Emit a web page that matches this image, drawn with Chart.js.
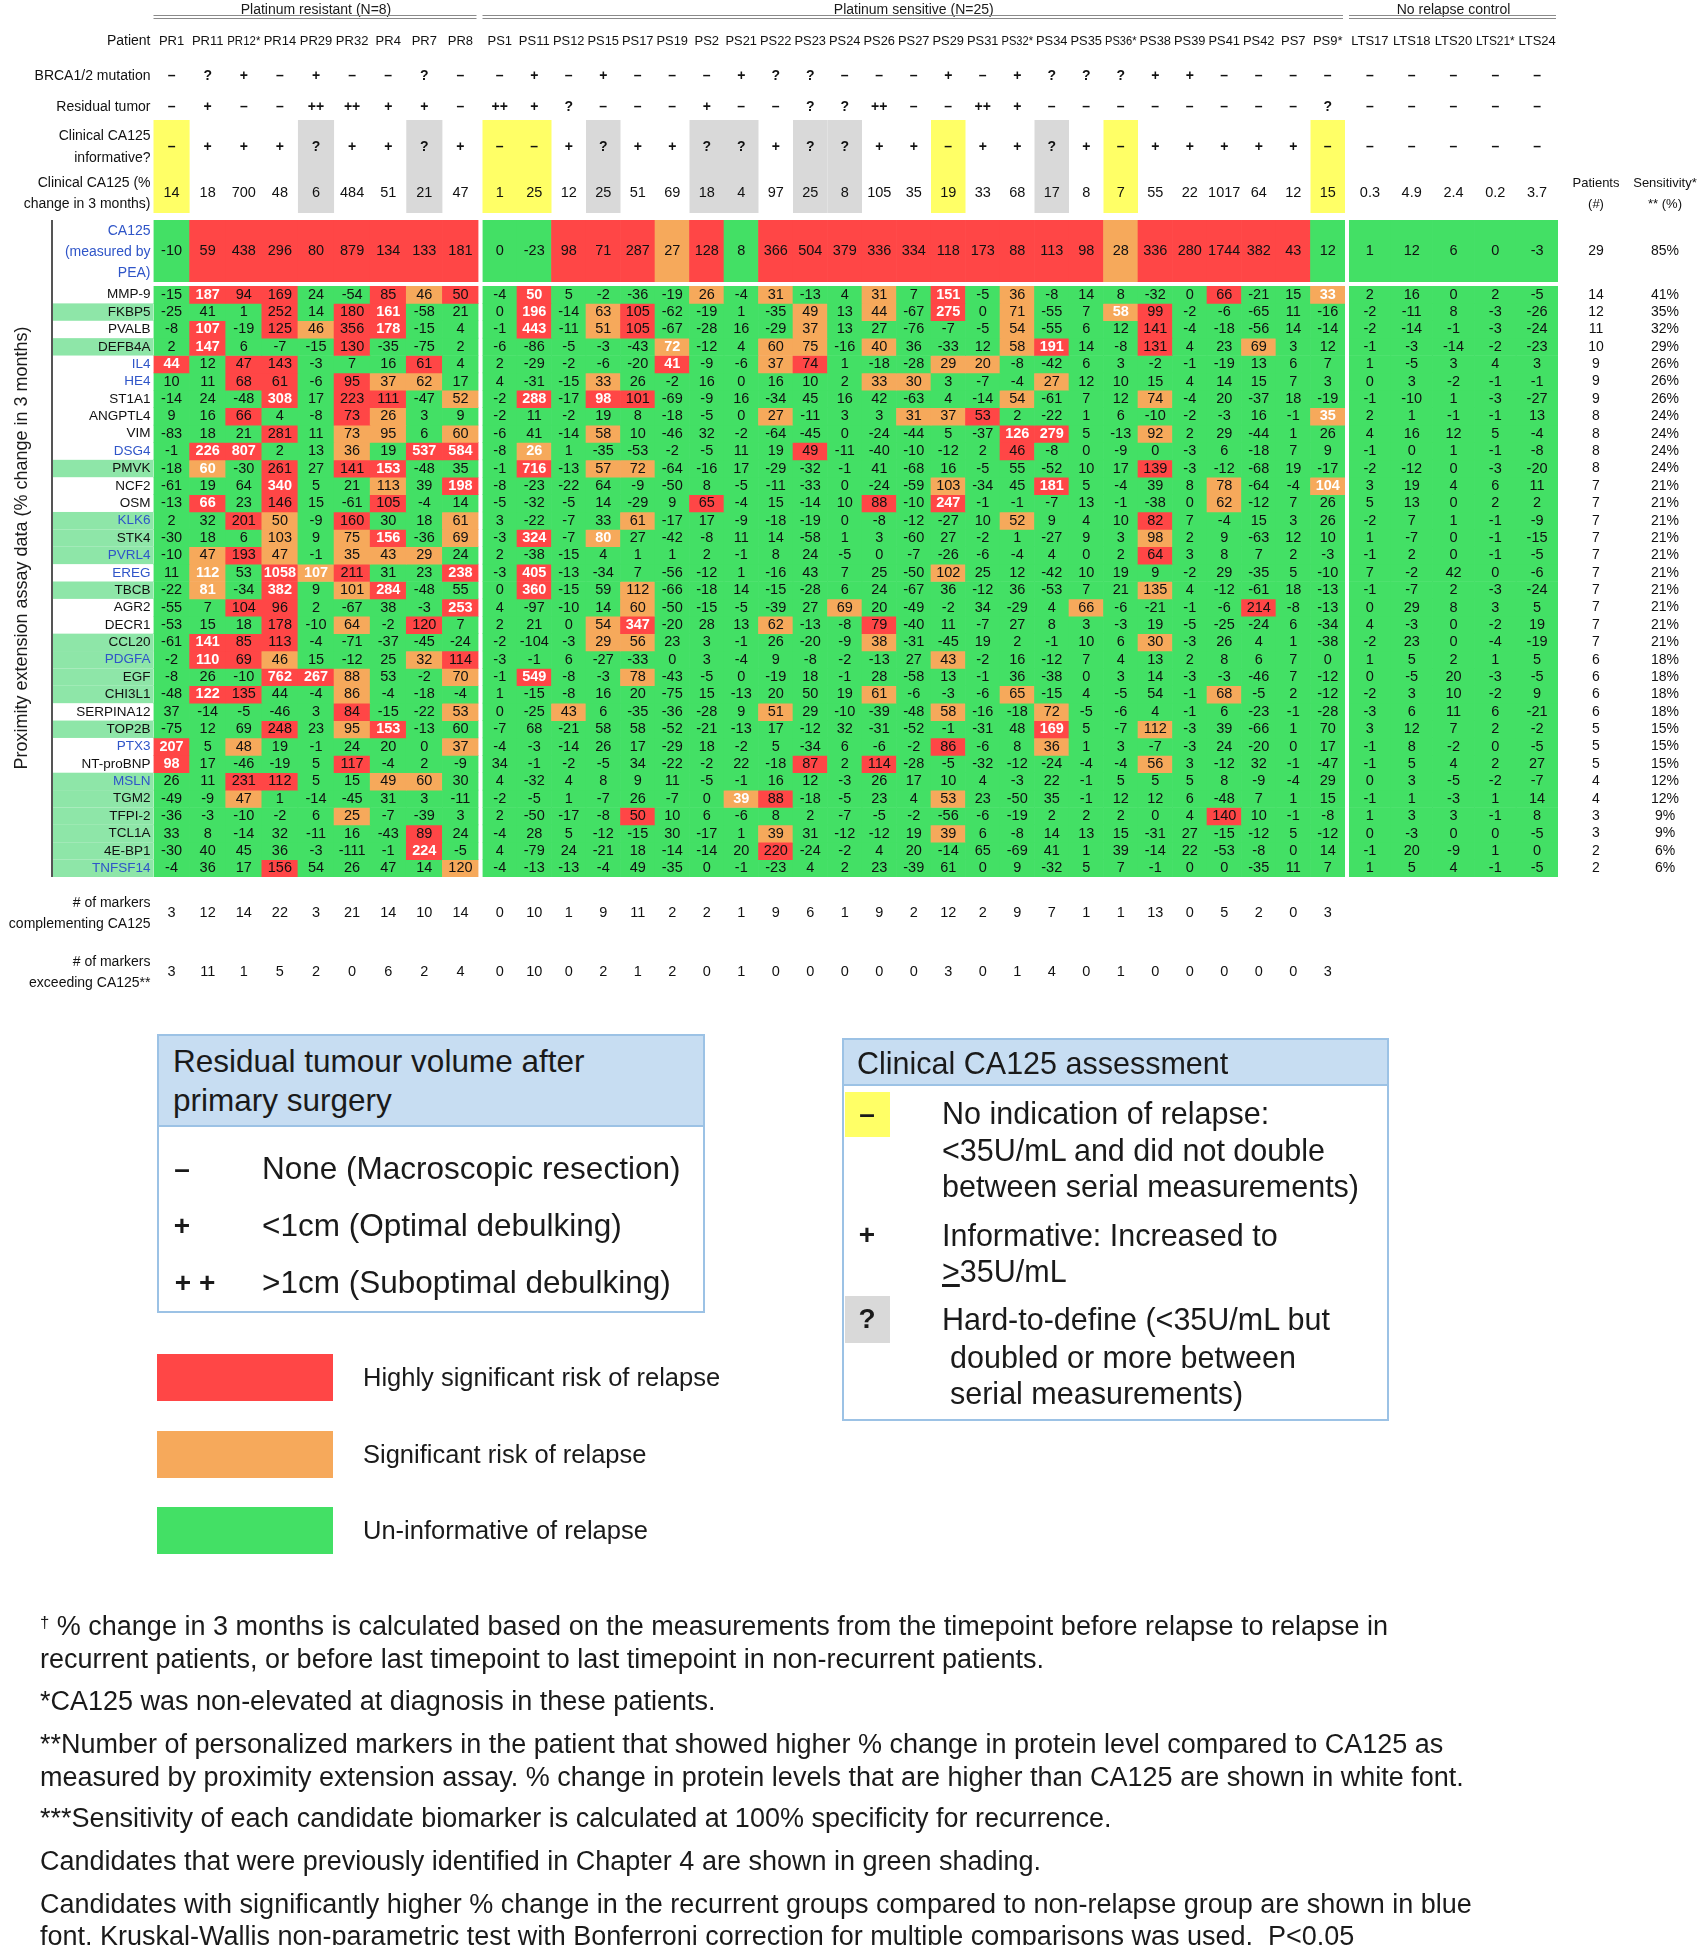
<!DOCTYPE html>
<html><head><meta charset="utf-8">
<script src="https://cdn.jsdelivr.net/npm/chart.js@4.4.0/dist/chart.umd.min.js"></script>
<style>
html,body{margin:0;padding:0;background:#fff;}
#page{position:relative;width:1701px;height:1945px;overflow:hidden;font-family:'Liberation Sans',Arial,Helvetica,sans-serif;color:#1a1a1a;background:#fff;}
canvas{position:absolute;left:0;top:0;}
.t{position:absolute;white-space:nowrap;}
</style></head><body><div id="page">
<canvas id="topPR" width="1701" height="1945"></canvas>
<canvas id="topPS" width="1701" height="1945"></canvas>
<canvas id="topLTS" width="1701" height="1945"></canvas>
<canvas id="mkPR" width="1701" height="1945"></canvas>
<canvas id="mkPS" width="1701" height="1945"></canvas>
<canvas id="mkLTS" width="1701" height="1945"></canvas>
</div>
<script>
// ---------------- DATA ----------------
const patientsPR = ['PR1','PR11','PR12*','PR14','PR29','PR32','PR4','PR7','PR8'];
const patientsPS = ['PS1','PS11','PS12','PS15','PS17','PS19','PS2','PS21','PS22','PS23','PS24','PS26','PS27','PS29','PS31','PS32*','PS34','PS35','PS36*','PS38','PS39','PS41','PS42','PS7','PS9*'];
const patientsLTS = ['LTS17','LTS18','LTS20','LTS21*','LTS24'];

const brcaMutation = ['–','?','+','–','+','–','–','?','–',
  '–','+','–','+','–','–','–','+','?','?','–','–','–','+','–','+','?','?','?','+','+','–','–','–','–',
  '–','–','–','–','–'];
const residualTumor = ['–','+','–','–','++','++','+','+','–',
  '++','+','?','–','–','–','+','–','–','?','?','++','–','–','++','+','–','–','–','–','–','–','–','–','?',
  '–','–','–','–','–'];
const ca125Informative = ['–','+','+','+','?','+','+','?','+',
  '–','–','+','?','+','+','?','?','+','?','?','+','+','–','+','+','?','+','–','+','+','+','+','+','–',
  '–','–','–','–','–'];
const ca125Clinical = [14,18,700,48,6,484,51,21,47,
  1,25,12,25,51,69,18,4,97,25,8,105,35,19,33,68,17,8,7,55,22,1017,64,12,15,
  0.3,4.9,2.4,0.2,3.7];
const ca125PEA = [-10,59,438,296,80,879,134,133,181,
  0,-23,98,71,287,27,128,8,366,504,379,336,334,118,173,88,113,98,28,336,280,1744,382,43,12,
  1,12,6,0,-3];
const ca125PEASig = 'UHHHHHHHH UUHHHSHUHHHHHHHHHHSHHHHHU UUUUU';
const ca125Patients = 29, ca125Sensitivity = 85;

const markerNames = ['MMP-9','FKBP5','PVALB','DEFB4A','IL4','HE4','ST1A1','ANGPTL4','VIM','DSG4','PMVK','NCF2','OSM','KLK6','STK4','PVRL4','EREG','TBCB','AGR2','DECR1','CCL20','PDGFA','EGF','CHI3L1','SERPINA12','TOP2B','PTX3','NT-proBNP','MSLN','TGM2','TFPI-2','TCL1A','4E-BP1','TNFSF14'];
const blueMarkers = ['IL4','HE4','DSG4','KLK6','PVRL4','EREG','PDGFA','PTX3','MSLN','TNFSF14'];
const previouslyIdentified = ['FKBP5','DEFB4A','PMVK','KLK6','STK4','PVRL4','TBCB','CCL20','PDGFA','EGF','CHI3L1','TOP2B','MSLN','TGM2','TFPI-2','TCL1A','4E-BP1','TNFSF14'];

const MMP9 = [-15,187,94,169,24,-54,85,46,50, -4,50,5,-2,-36,-19,26,-4,31,-13,4,31,7,151,-5,36,-8,14,8,-32,0,66,-21,15,33, 2,16,0,2,-5];
const FKBP5 = [-25,41,1,252,14,180,161,-58,21, 0,196,-14,63,105,-62,-19,1,-35,49,13,44,-67,275,0,71,-55,7,58,99,-2,-6,-65,11,-16, -2,-11,8,-3,-26];
const PVALB = [-8,107,-19,125,46,356,178,-15,4, -1,443,-11,51,105,-67,-28,16,-29,37,13,27,-76,-7,-5,54,-55,6,12,141,-4,-18,-56,14,-14, -2,-14,-1,-3,-24];
const DEFB4A = [2,147,6,-7,-15,130,-35,-75,2, -6,-86,-5,-3,-43,72,-12,4,60,75,-16,40,36,-33,12,58,191,14,-8,131,4,23,69,3,12, -1,-3,-14,-2,-23];
const IL4 = [44,12,47,143,-3,7,16,61,4, 2,-29,-2,-6,-20,41,-9,-6,37,74,1,-18,-28,29,20,-8,-42,6,3,-2,-1,-19,13,6,7, 1,-5,3,4,3];
const HE4 = [10,11,68,61,-6,95,37,62,17, 4,-31,-15,33,26,-2,16,0,16,10,2,33,30,3,-7,-4,27,12,10,15,4,14,15,7,3, 0,3,-2,-1,-1];
const ST1A1 = [-14,24,-48,308,17,223,111,-47,52, -2,288,-17,98,101,-69,-9,16,-34,45,16,42,-63,4,-14,54,-61,7,12,74,-4,20,-37,18,-19, -1,-10,1,-3,-27];
const ANGPTL4 = [9,16,66,4,-8,73,26,3,9, -2,11,-2,19,8,-18,-5,0,27,-11,3,3,31,37,53,2,-22,1,6,-10,-2,-3,16,-1,35, 2,1,-1,-1,13];
const VIM = [-83,18,21,281,11,73,95,6,60, -6,41,-14,58,10,-46,32,-2,-64,-45,0,-24,-44,5,-37,126,279,5,-13,92,2,29,-44,1,26, 4,16,12,5,-4];
const DSG4 = [-1,226,807,2,13,36,19,537,584, -8,26,1,-35,-53,-2,-5,11,19,49,-11,-40,-10,-12,2,46,-8,0,-9,0,-3,6,-18,7,9, -1,0,1,-1,-8];
const PMVK = [-18,60,-30,261,27,141,153,-48,35, -1,716,-13,57,72,-64,-16,17,-29,-32,-1,41,-68,16,-5,55,-52,10,17,139,-3,-12,-68,19,-17, -2,-12,0,-3,-20];
const NCF2 = [-61,19,64,340,5,21,113,39,198, -8,-23,-22,64,-9,-50,8,-5,-11,-33,0,-24,-59,103,-34,45,181,5,-4,39,8,78,-64,-4,104, 3,19,4,6,11];
const OSM = [-13,66,23,146,15,-61,105,-4,14, -5,-32,-5,14,-29,9,65,-4,15,-14,10,88,-10,247,-1,-1,-7,13,-1,-38,0,62,-12,7,26, 5,13,0,2,2];
const KLK6 = [2,32,201,50,-9,160,30,18,61, 3,-22,-7,33,61,-17,17,-9,-18,-19,0,-8,-12,-27,10,52,9,4,10,82,7,-4,15,3,26, -2,7,1,-1,-9];
const STK4 = [-30,18,6,103,9,75,156,-36,69, -3,324,-7,80,27,-42,-8,11,14,-58,1,3,-60,27,-2,1,-27,9,3,98,2,9,-63,12,10, 1,-7,0,-1,-15];
const PVRL4 = [-10,47,193,47,-1,35,43,29,24, 2,-38,-15,4,1,1,2,-1,8,24,-5,0,-7,-26,-6,-4,4,0,2,64,3,8,7,2,-3, -1,2,0,-1,-5];
const EREG = [11,112,53,1058,107,211,31,23,238, -3,405,-13,-34,7,-56,-12,1,-16,43,7,25,-50,102,25,12,-42,10,19,9,-2,29,-35,5,-10, 7,-2,42,0,-6];
const TBCB = [-22,81,-34,382,9,101,284,-48,55, 0,360,-15,59,112,-66,-18,14,-15,-28,6,24,-67,36,-12,36,-53,7,21,135,4,-12,-61,18,-13, -1,-7,2,-3,-24];
const AGR2 = [-55,7,104,96,2,-67,38,-3,253, 4,-97,-10,14,60,-50,-15,-5,-39,27,69,20,-49,-2,34,-29,4,66,-6,-21,-1,-6,214,-8,-13, 0,29,8,3,5];
const DECR1 = [-53,15,18,178,-10,64,-2,120,7, 2,21,0,54,347,-20,28,13,62,-13,-8,79,-40,11,-7,27,8,3,-3,19,-5,-25,-24,6,-34, 4,-3,0,-2,19];
const CCL20 = [-61,141,85,113,-4,-71,-37,-45,-24, -2,-104,-3,29,56,23,3,-1,26,-20,-9,38,-31,-45,19,2,-1,10,6,30,-3,26,4,1,-38, -2,23,0,-4,-19];
const PDGFA = [-2,110,69,46,15,-12,25,32,114, -3,-1,6,-27,-33,0,3,-4,9,-8,-2,-13,27,43,-2,16,-12,7,4,13,2,8,6,7,0, 1,5,2,1,5];
const EGF = [-8,26,-10,762,267,88,53,-2,70, -1,549,-8,-3,78,-43,-5,0,-19,18,-1,28,-58,13,-1,36,-38,0,3,14,-3,-3,-46,7,-12, 0,-5,20,-3,-5];
const CHI3L1 = [-48,122,135,44,-4,86,-4,-18,-4, 1,-15,-8,16,20,-75,15,-13,20,50,19,61,-6,-3,-6,65,-15,4,-5,54,-1,68,-5,2,-12, -2,3,10,-2,9];
const SERPINA12 = [37,-14,-5,-46,3,84,-15,-22,53, 0,-25,43,6,-35,-36,-28,9,51,29,-10,-39,-48,58,-16,-18,72,-5,-6,4,-1,6,-23,-1,-28, -3,6,11,6,-21];
const TOP2B = [-75,12,69,248,23,95,153,-13,60, -7,68,-21,58,58,-52,-21,-13,17,-12,32,-31,-52,-1,-31,48,169,5,-7,112,-3,39,-66,1,70, 3,12,7,2,-2];
const PTX3 = [207,5,48,19,-1,24,20,0,37, -4,-3,-14,26,17,-29,18,-2,5,-34,6,-6,-2,86,-6,8,36,1,3,-7,-3,24,-20,0,17, -1,8,-2,0,-5];
const NTproBNP = [98,17,-46,-19,5,117,-4,2,-9, 34,-1,-2,-5,34,-22,-2,22,-18,87,2,114,-28,-5,-32,-12,-24,-4,-4,56,3,-12,32,-1,-47, -1,5,4,2,27];
const MSLN = [26,11,231,112,5,15,49,60,30, 4,-32,4,8,9,11,-5,-1,16,12,-3,26,17,10,4,-3,22,-1,5,5,5,8,-9,-4,29, 0,3,-5,-2,-7];
const TGM2 = [-49,-9,47,1,-14,-45,31,3,-11, -2,-5,1,-7,26,-7,0,39,88,-18,-5,23,4,53,23,-50,35,-1,12,12,6,-48,7,1,15, -1,1,-3,1,14];
const TFPI2 = [-36,-3,-10,-2,6,25,-7,-39,3, 2,-50,-17,-8,50,10,6,-6,8,2,-7,-5,-2,-56,-6,-19,2,2,2,0,4,140,10,-1,-8, 1,3,3,-1,8];
const TCL1A = [33,8,-14,32,-11,16,-43,89,24, -4,28,5,-12,-15,30,-17,1,39,31,-12,-12,19,39,6,-8,14,13,15,-31,27,-15,-12,5,-12, 0,-3,0,0,-5];
const EBP1 = [-30,40,45,36,-3,-111,-1,224,-5, 4,-79,24,-21,18,-14,-14,20,220,-24,-2,4,20,-14,65,-69,41,1,39,-14,22,-53,-8,0,14, -1,20,-9,1,0];
const TNFSF14 = [-4,36,17,156,54,26,47,14,120, -4,-13,-13,-4,49,-35,0,-1,-23,4,2,23,-39,61,0,9,-32,5,7,-1,0,0,-35,11,7, 1,5,4,-1,-5];

const markerValues = [MMP9,FKBP5,PVALB,DEFB4A,IL4,HE4,ST1A1,ANGPTL4,VIM,DSG4,PMVK,NCF2,OSM,KLK6,STK4,PVRL4,EREG,TBCB,AGR2,DECR1,CCL20,PDGFA,EGF,CHI3L1,SERPINA12,TOP2B,PTX3,NTproBNP,MSLN,TGM2,TFPI2,TCL1A,EBP1,TNFSF14];

// H = highly significant, S = significant, U = un-informative  (PR | PS | LTS)
const markerSignificance = [
 'UHHHUUHSH UHUUUUSUSUUSUHUSUUUUUHUUS UUUUU', // MMP-9
 'UUUHUHHUU UHUSHUUUUSUSUHUSUUSHUUUUU UUUUU', // FKBP5
 'UHUHSHHUU UHUSHUUUUSUUUUUSUUUHUUUUU UUUUU', // PVALB
 'UHUUUHUUU UUUUUSUUSSUSUUUSHUUHUUSUU UUUUU', // DEFB4A
 'HUHHUUUHU UUUUUHUUSHUUUSSUUUUUUUUUU UUUUU', // IL4
 'UUHHUHSSU UUUSUUUUUUUSSUUUSUUUUUUUU UUUUU', // HE4
 'UUUHUHHUS UHUHHUUUUUUUUUUSUUUSUUUUU UUUUU', // ST1A1
 'UUHUUHSUU UUUUUUUUSUUUSSHUUUUUUUUUS UUUUU', // ANGPTL4
 'UUUHUSSUS UUUSUUUUUUUUUUUHHUUSUUUUU UUUUU', // VIM
 'UHHUUSUHH USUUUUUUUHUUUUUHUUUUUUUUU UUUUU', // DSG4
 'USUHUHHUU UHUSSUUUUUUUUUUUUUUHUUUUU UUUUU', // PMVK
 'UUUHUUSUH UUUUUUUUUUUUUSUUHUUUUSUUS UUUUU', // NCF2
 'UHUHUUHUU UUUUUUHUUUUHUHUUUUUUUSUUU UUUUU', // OSM
 'UUHSUHUUS UUUUSUUUUUUUUUUSUUUHUUUUU UUUUU', // KLK6
 'UUUSUSHUS UHUSUUUUUUUUUUUUUUUSUUUUU UUUUU', // STK4
 'USHSUSSSU UUUUUUUUUUUUUUUUUUUHUUUUU UUUUU', // PVRL4
 'USUHSHUUH UHUUUUUUUUUUUSUUUUUUUUUUU UUUUU', // EREG
 'USUHUSHUU UHUUSUUUUUUUUUUUUUUSUUUUU UUUUU', // TBCB
 'UUHHUUUUH UUUUSUUUUUSUUUUUUSUUUUHUU UUUUU', // AGR2
 'UUUHUSUHU UUUSHUUUSUUHUUUUUUUUUUUUU UUUUU', // DECR1
 'UHHHUUUUU UUUSSUUUUUUSUUUUUUUSUUUUU UUUUU', // CCL20
 'UHHSUUUSH UUUUUUUUUUUUUSUUUUUUUUUUU UUUUU', // PDGFA
 'UUUHHSUUS UHUUSUUUUUUUUUUUUUUUUUUUU UUUUU', // EGF
 'UHHUUSUUU UUUUUUUUUUUSUUUSUUUUUSUUU UUUUU', // CHI3L1
 'UUUUUHUUS UUSUUUUUSUUUUSUUSUUUUUUUU UUUUU', // SERPINA12
 'UUUHUSHUU UUUUUUUUUUUUUUUUHUUSUUUUU UUUUU', // TOP2B
 'HUSUUUUUS UUUUUUUUUUUUUHUUSUUUUUUUU UUUUU', // PTX3
 'HUUUUHUUU UUUUUUUUUHUHUUUUUUUSUUUUU UUUUU', // NT-proBNP
 'UUHHUUSSU UUUUUUUUUUUUUUUUUUUUUUUUU UUUUU', // MSLN
 'UUSUUUUUU UUUUUUUSHUUUUSUUUUUUUUUUU UUUUU', // TGM2
 'UUUUUSUUU UUUUHUUUUUUUUUUUUUUUUHUUU UUUUU', // TFPI-2
 'UUUUUUUHU UUUUUUUUSUUUUSUUUUUUUUUUU UUUUU', // TCL1A
 'UUUUUUUHU UUUUUUUUHUUUUUUUUUUUUUUUU UUUUU', // 4E-BP1
 'UUUHUUUUS UUUUUUUUUUUUUUUUUUUUUUUUU UUUUU'  // TNFSF14
];

const patientsSignificant = [14,12,11,10,9,9,9,8,8,8,8,7,7,7,7,7,7,7,7,7,7,6,6,6,6,5,5,5,4,4,3,3,2,2];
const sensitivityPct = [41,35,32,29,26,26,26,24,24,24,24,21,21,21,21,21,21,21,21,21,21,18,18,18,18,15,15,15,12,12,9,9,6,6];
const markersComplementing = [3,12,14,22,3,21,14,10,14, 0,10,1,9,11,2,2,1,9,6,1,9,2,12,2,9,7,1,1,13,0,5,2,0,3];
const markersExceeding = [3,11,1,5,2,0,6,2,4, 0,10,0,2,1,2,0,1,0,0,0,0,0,3,0,1,4,0,1,0,0,0,0,0,3];

// ---------------- STYLE / LAYOUT ----------------
const W = 1701, H = 1945;
const FONT = "'Liberation Sans', Arial, Helvetica, sans-serif";
const SIG_COLOR = {H:'#ff4646', S:'#f6a95b', U:'#43e065'};
const BOX_COLOR = {'–':'#ffff66', '?':'#d9d9d9'};
const BLUE = '#2f55c8', LABEL_SHADE = '#8ee6a8';
const Y = {title:10, rule:16, patient:41, brca:76, resid:107, inf:147, infL1:136, infL2:158, pct:193, pctL1:183, pctL2:204,
  boxTop:120, boxBot:213, caTop:220, caBot:282, mkTop:286, mkBot:877, comp:913, compL1:903, compL2:924, exc:972, excL1:962, excL2:983};
const X = {labelRight:150.5, shadeLeft:53, axisLine:52, axisTitle:22, patientsCol:1596, sensCol:1665};
const groups = [
  {key:'PR', patients:patientsPR, off:0, x0:153.5, x1:478.5, title:'Platinum resistant (N=8)'},
  {key:'PS', patients:patientsPS, off:9, x0:482.5, x1:1345, title:'Platinum sensitive (N=25)'},
  {key:'LTS', patients:patientsLTS, off:34, x0:1349, x1:1558, title:'No relapse control'}
];
const clean = s => s.replace(/\s+/g,'');

const page = document.getElementById('page');
(function validate(){
  const errs = [];
  [brcaMutation,residualTumor,ca125Informative,ca125Clinical,ca125PEA].forEach((a,i)=>{ if(a.length!==39) errs.push('hdr'+i+':'+a.length); });
  if (clean(ca125PEASig).length!==39) errs.push('ca125sig');
  markerValues.forEach((a,i)=>{ if(a.length!==39) errs.push(markerNames[i]+' vals '+a.length); });
  markerSignificance.forEach((s,i)=>{ if(clean(s).length!==39) errs.push(markerNames[i]+' sig '+clean(s).length); });
  if (errs.length){ const d=document.createElement('div'); d.style.cssText='position:absolute;left:600px;top:1500px;color:red;font-size:20px;z-index:9'; d.textContent=errs.join(' | '); page.appendChild(d); }
})();

function txt(ctx, s, x, y, o = {}) {
  ctx.save();
  ctx.font = `${o.weight||'normal'} ${o.size||14}px ${FONT}`;
  ctx.fillStyle = o.color || '#111';
  ctx.textAlign = o.align || 'center';
  ctx.textBaseline = 'middle';
  if (o.maxWidth) ctx.fillText(String(s), x, y, o.maxWidth); else ctx.fillText(String(s), x, y);
  ctx.restore();
}

function baseOptions(g, top, bottom, ymin, ymax) {
  return {
    responsive:false, animation:false, devicePixelRatio:1, events:[],
    layout:{padding:{left:g.x0, right:W-g.x1, top:top, bottom:H-bottom}},
    scales:{
      x:{type:'category', display:false, offset:true},
      y:{type:'linear', display:false, min:ymin, max:ymax, reverse:true}
    },
    datasets:{bar:{grouped:false, barPercentage:1, categoryPercentage:1, borderWidth:0, borderSkipped:false}},
    plugins:{legend:{display:false}, tooltip:{enabled:false}, title:{display:false}}
  };
}

const cellTextPlugin = {
  id:'cellText',
  afterDatasetsDraw(chart) {
    const ctx = chart.ctx;
    chart.data.datasets.forEach((ds, d) => {
      const meta = chart.getDatasetMeta(d);
      meta.data.forEach((el, i) => {
        const v = ds.values[i], s = ds.sigs[i];
        const white = ds.refs ? (s !== 'U' && v > ds.refs[i]) : false;
        txt(ctx, v, el.x, (el.y + el.base) / 2, {size:14.5, color: white ? '#ffffff' : '#111', weight: white ? 'bold' : 'normal', maxWidth: el.width - 2});
      });
    });
  }
};

// ---------------- CA125 (PEA) row + header rows ----------------
function makeTopChart(id, g) {
  const n = g.patients.length;
  const vals = ca125PEA.slice(g.off, g.off + n);
  const sigs = clean(ca125PEASig).slice(g.off, g.off + n).split('');
  return new Chart(document.getElementById(id), {
    type:'bar',
    data:{labels:g.patients, datasets:[{label:'CA125', data: vals.map(() => [0, 1]), values: vals, sigs: sigs,
      backgroundColor: sigs.map(s => SIG_COLOR[s])}]},
    options: baseOptions(g, Y.caTop, Y.caBot, 0, 1),
    plugins:[cellTextPlugin, {
      id:'hdr' + g.key,
      beforeDatasetsDraw(chart) {
        const ctx = chart.ctx, xs = chart.scales.x, ca = chart.chartArea;
        const bw = (ca.right - ca.left) / n;
        if (g.key !== 'LTS') {
          for (let i = 0; i < n; i++) {
            const c = BOX_COLOR[ca125Informative[g.off + i]];
            if (c) { ctx.fillStyle = c; ctx.fillRect(xs.getPixelForValue(i) - bw / 2, Y.boxTop, bw, Y.boxBot - Y.boxTop); }
          }
        }
      },
      afterDraw(chart) {
        const ctx = chart.ctx, xs = chart.scales.x, ca = chart.chartArea;
        const bw = (ca.right - ca.left) / n;
        txt(ctx, g.title, (ca.left + ca.right) / 2, Y.title, {size:14, color:'#1a1a1a'});
        ctx.save(); ctx.strokeStyle = '#8a8a8a'; ctx.lineWidth = 1;
        [Y.rule - 0.5, Y.rule + 2.5].forEach(yy => { ctx.beginPath(); ctx.moveTo(ca.left, yy); ctx.lineTo(ca.right - 2, yy); ctx.stroke(); });
        ctx.restore();
        for (let i = 0; i < n; i++) {
          const gi = g.off + i, x = xs.getPixelForValue(i);
          txt(ctx, g.patients[i], x, Y.patient, {size:13, maxWidth: bw - 3});
          txt(ctx, brcaMutation[gi], x, Y.brca, {size:14, weight:'bold'});
          txt(ctx, residualTumor[gi], x, Y.resid, {size:14, weight:'bold'});
          txt(ctx, ca125Informative[gi], x, Y.inf, {size:14, weight:'bold'});
          txt(ctx, ca125Clinical[gi], x, Y.pct, {size:14.5, maxWidth: bw - 2});
        }
        if (g.key === 'PR') {
          const R = {size:14, align:'right'};
          txt(ctx, 'Patient', X.labelRight, Y.patient, R);
          txt(ctx, 'BRCA1/2 mutation', X.labelRight, Y.brca, R);
          txt(ctx, 'Residual tumor', X.labelRight, Y.resid, R);
          txt(ctx, 'Clinical CA125', X.labelRight, Y.infL1, R);
          txt(ctx, 'informative?', X.labelRight, Y.infL2, R);
          txt(ctx, 'Clinical CA125 (%', X.labelRight, Y.pctL1, R);
          txt(ctx, 'change in 3 months)', X.labelRight, Y.pctL2, R);
          const B = {size:14, align:'right', color:BLUE};
          txt(ctx, 'CA125', X.labelRight, 231, B);
          txt(ctx, '(measured by', X.labelRight, 252, B);
          txt(ctx, 'PEA)', X.labelRight, 273, B);
        }
        if (g.key === 'LTS') {
          txt(ctx, 'Patients', X.patientsCol, Y.pctL1, {size:13});
          txt(ctx, '(#)', X.patientsCol, Y.pctL2, {size:13});
          txt(ctx, 'Sensitivity*', X.sensCol, Y.pctL1, {size:13});
          txt(ctx, '** (%)', X.sensCol, Y.pctL2, {size:13});
          const yc = (ca.top + ca.bottom) / 2;
          txt(ctx, ca125Patients, X.patientsCol, yc, {size:14});
          txt(ctx, ca125Sensitivity + '%', X.sensCol, yc, {size:14});
        }
      }
    }]
  });
}

// ---------------- marker heatmap ----------------
function makeMarkerChart(id, g) {
  const n = g.patients.length;
  const refs = ca125PEA.slice(g.off, g.off + n);
  const datasets = markerNames.map((name, r) => {
    const vals = markerValues[r].slice(g.off, g.off + n);
    const sigs = clean(markerSignificance[r]).slice(g.off, g.off + n).split('');
    return {label:name, data: vals.map(() => [r - 0.5, r + 0.5]), values: vals, sigs: sigs, refs: refs,
      backgroundColor: sigs.map(s => SIG_COLOR[s])};
  });
  return new Chart(document.getElementById(id), {
    type:'bar',
    data:{labels:g.patients, datasets},
    options: baseOptions(g, Y.mkTop, Y.mkBot, -0.5, markerNames.length - 0.5),
    plugins:[cellTextPlugin, {
      id:'mk' + g.key,
      afterDraw(chart) {
        const ctx = chart.ctx, xs = chart.scales.x, ys = chart.scales.y;
        const rowH = Math.abs(ys.getPixelForValue(1) - ys.getPixelForValue(0));
        if (g.key === 'PR') {
          markerNames.forEach((name, r) => {
            const y = ys.getPixelForValue(r);
            if (previouslyIdentified.includes(name)) {
              ctx.fillStyle = LABEL_SHADE;
              ctx.fillRect(X.shadeLeft, y - rowH / 2, g.x0 - X.shadeLeft - 0.5, rowH);
            }
            txt(ctx, name, X.labelRight, y, {size:13.5, align:'right', color: blueMarkers.includes(name) ? BLUE : '#111'});
          });
          ctx.save(); ctx.strokeStyle = '#555'; ctx.lineWidth = 2;
          ctx.beginPath(); ctx.moveTo(X.axisLine, Y.caTop); ctx.lineTo(X.axisLine, Y.mkBot); ctx.stroke(); ctx.restore();
          ctx.save(); ctx.translate(X.axisTitle, 548); ctx.rotate(-Math.PI / 2);
          txt(ctx, 'Proximity extension assay data (% change in 3 months)', 0, 0, {size:18, color:'#1a1a1a'});
          ctx.restore();
          const R = {size:14, align:'right'};
          txt(ctx, '# of markers', X.labelRight, Y.compL1, R);
          txt(ctx, 'complementing CA125', X.labelRight, Y.compL2, R);
          txt(ctx, '# of markers', X.labelRight, Y.excL1, R);
          txt(ctx, 'exceeding CA125**', X.labelRight, Y.excL2, R);
        }
        if (g.key !== 'LTS') {
          for (let i = 0; i < n; i++) {
            const x = xs.getPixelForValue(i);
            txt(ctx, markersComplementing[g.off + i], x, Y.comp, {size:14.5});
            txt(ctx, markersExceeding[g.off + i], x, Y.exc, {size:14.5});
          }
        } else {
          markerNames.forEach((name, r) => {
            const y = ys.getPixelForValue(r);
            txt(ctx, patientsSignificant[r], X.patientsCol, y, {size:14});
            txt(ctx, sensitivityPct[r] + '%', X.sensCol, y, {size:14});
          });
        }
      }
    }]
  });
}

groups.forEach(g => { makeTopChart('top' + g.key, g); makeMarkerChart('mk' + g.key, g); });

// ---------------- legends & notes (HTML text) ----------------
function rect(x, y, w, h, css) {
  const d = document.createElement('div');
  d.style.cssText = `position:absolute;left:${x}px;top:${y}px;width:${w}px;height:${h}px;box-sizing:border-box;${css}`;
  page.appendChild(d); return d;
}
function text(html, x, yc, size, css = '') {
  const d = document.createElement('div');
  d.className = 't';
  d.style.cssText = `left:${x}px;top:${yc - size * 0.6}px;font-size:${size}px;line-height:${size * 1.2}px;${css}`;
  d.innerHTML = html; page.appendChild(d); return d;
}
function ctext(html, xc, yc, size, css = '') {
  const d = text(html, xc - 50, yc, size, css);
  d.style.width = '100px'; d.style.textAlign = 'center'; return d;
}
const LB = '#9cc2e5', LH = '#c7ddf2';
const S1 = 31.5, S2 = 30.5, S3 = 25.5, SF = 27;
// Residual tumour box
rect(157, 1034, 548, 93, `background:${LH};border:2px solid ${LB};`);
text('Residual tumour volume after', 173, 1062, S1);
text('primary surgery', 173, 1101, S1);
rect(157, 1125, 548, 188, `background:#fff;border:2px solid ${LB};`);
const residualLegend = [['–', 'None (Macroscopic resection)'], ['+', '&lt;1cm (Optimal debulking)'], ['+ +', '&gt;1cm (Suboptimal debulking)']];
residualLegend.forEach((e, i) => {
  const yc = 1169 + i * 57;
  ctext(e[0], i === 2 ? 195 : 182, yc, 28, 'font-weight:bold;');
  text(e[1], 262, yc, S1);
});
// Clinical CA125 assessment box
rect(842, 1038, 547, 48, `background:${LH};border:2px solid ${LB};`);
text('Clinical CA125 assessment', 857, 1063, S2);
rect(842, 1084, 547, 337, `background:#fff;border:2px solid ${LB};`);
rect(845, 1092, 45, 45, `background:${BOX_COLOR['–']};`);
ctext('–', 867, 1114, 28, 'font-weight:bold;');
text('No indication of relapse:', 942, 1113, S2);
text('&lt;35U/mL and did not double', 942, 1150, S2);
text('between serial measurements)', 942, 1186, S2);
ctext('+', 867, 1235, 28, 'font-weight:bold;');
text('Informative: Increased to', 942, 1235, S2);
text('<u>&gt;</u>35U/mL', 942, 1271, S2);
rect(845, 1296, 45, 47, `background:${BOX_COLOR['?']};`);
ctext('?', 867, 1319, 28, 'font-weight:bold;');
text('Hard-to-define (&lt;35U/mL but', 942, 1319, S2);
text('doubled or more between', 950, 1357, S2);
text('serial measurements)', 950, 1393, S2);
// colour legend
const colourLegend = [['H', 'Highly significant risk of relapse'], ['S', 'Significant risk of relapse'], ['U', 'Un-informative of relapse']];
colourLegend.forEach((e, i) => {
  const top = 1354 + i * 76.5;
  rect(157, top, 176, 47, `background:${SIG_COLOR[e[0]]};`);
  text(e[1], 363, top + 23.5, S3);
});
// footnotes
const footnotes = [
  [1626, '<sup style="font-size:62%;vertical-align:top;position:relative;top:-3px">†</sup> % change in 3 months is calculated based on the measurements from the timepoint before relapse to relapse in'],
  [1659, 'recurrent patients, or before last timepoint to last timepoint in non-recurrent patients.'],
  [1701, '*CA125 was non-elevated at diagnosis in these patients.'],
  [1744, '**Number of personalized markers in the patient that showed higher % change in protein level compared to CA125 as'],
  [1777, 'measured by proximity extension assay. % change in protein levels that are higher than CA125 are shown in white font.'],
  [1818, '***Sensitivity of each candidate biomarker is calculated at 100% specificity for recurrence.'],
  [1861, 'Candidates that were previously identified in Chapter 4 are shown in green shading.'],
  [1904, 'Candidates with significantly higher % change in the recurrent groups compared to non-relapse group are shown in blue'],
  [1936, 'font. Kruskal-Wallis non-parametric test with Bonferroni correction for multiple comparisons was used.&nbsp; P&lt;0.05']
];
footnotes.forEach(f => text(f[1], 40, f[0], SF));
</script>
</body></html>
